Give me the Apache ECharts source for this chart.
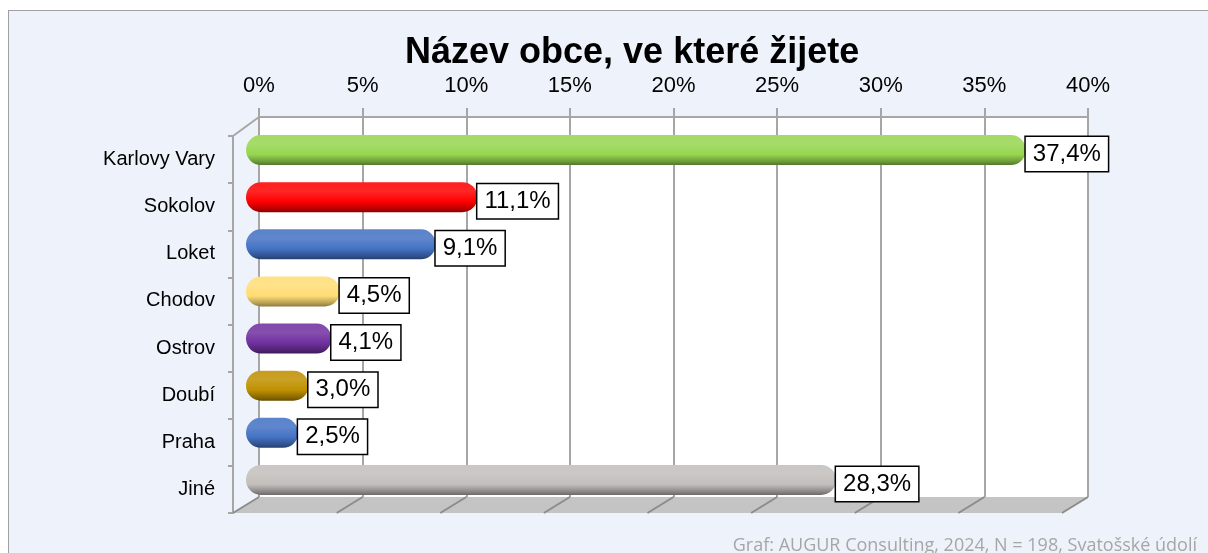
<!DOCTYPE html>
<html>
<head>
<meta charset="utf-8">
<script src="https://cdn.jsdelivr.net/npm/echarts@6/dist/echarts.min.js"></script>
<style>
  html, body { margin: 0; padding: 0; background: #fff; overflow: hidden; }
  #frame {
    position: absolute; left: 8px; top: 10px; width: 1300px; height: 700px;
    background: #eef3fb; border: 1px solid #a0a0a0;
  }
  #chart { position: absolute; left: 0; top: 0; width: 1208px; height: 553px; }
</style>
</head>
<body>
<div id="frame"></div>
<div id="chart"></div>
<script>
// data
const categories = ["Karlovy Vary", "Sokolov", "Loket", "Chodov", "Ostrov", "Doubí", "Praha", "Jiné"];
const shares = [37.4, 11.1, 9.1, 4.5, 4.1, 3.0, 2.5, 28.3];
const ticks = [0, 5, 10, 15, 20, 25, 30, 35, 40];

const barColors = ["#96d650", "#ff0000", "#4472c4", "#ffdd75", "#7030a0", "#bf9000", "#4472c4", "#c2bebc"];
const gridGray = "#a6a6a6";
const depthX = -26, depthY = 16;

function shade(hex, k) {
  const n = parseInt(hex.slice(1), 16);
  let r = n >> 16, g = (n >> 8) & 255, b = n & 255;
  const f = (c) => k >= 0 ? Math.round(c + (255 - c) * k) : Math.round(c * (1 + k));
  return "rgb(" + f(r) + "," + f(g) + "," + f(b) + ")";
}

function cylinder(hex) {
  return new echarts.graphic.LinearGradient(0, 0, 0, 1, [
    { offset: 0, color: shade(hex, 0.12) },
    { offset: 0.3, color: shade(hex, 0.15) },
    { offset: 0.65, color: hex },
    { offset: 0.9, color: shade(hex, -0.3) },
    { offset: 1, color: shade(hex, -0.45) },
  ]);
}

const chart = echarts.init(document.getElementById("chart"));

const options = {
  backgroundColor: "transparent",
  animation: false,
  title: {
    text: "Název obce, ve které žijete",
    left: 400,
    top: 30,
    textStyle: { fontFamily: "Liberation Sans", fontSize: 36, fontWeight: "bold", color: "#000" },
  },
  grid: [
    // back wall
    { left: 259, top: 117, width: 829, height: 380, show: true, backgroundColor: "#fff", borderWidth: 0 },
    // bars (middle depth)
    { left: 246, top: 126.5, width: 834, height: 377 },
    // front edge for category labels
    { left: 233, top: 136, width: 829, height: 377 },
  ],
  xAxis: [
    {
      gridIndex: 0, type: "value", position: "top", min: ticks[0], max: ticks[ticks.length - 1], interval: 5,
      axisLine: { show: true, lineStyle: { color: gridGray, width: 2 } },
      axisTick: { show: true, length: 9, lineStyle: { color: gridGray, width: 2 } },
      axisLabel: { formatter: "{value}%", margin: 20, fontFamily: "Liberation Sans", fontSize: 22, color: "#000" },
      splitLine: { show: true, lineStyle: { color: gridGray, width: 2 } },
    },
    { gridIndex: 1, type: "value", min: 0, max: 40, show: false },
    { gridIndex: 2, type: "value", min: 0, max: 40, show: false },
  ],
  yAxis: [
    { gridIndex: 0, type: "category", data: categories, inverse: true, show: false },
    { gridIndex: 1, type: "category", data: categories, inverse: true, show: false },
    {
      gridIndex: 2, type: "category", data: categories, inverse: true,
      axisLine: { show: true, lineStyle: { color: gridGray, width: 2 } },
      axisTick: { show: true, length: 5, lineStyle: { color: gridGray, width: 2 } },
      axisLabel: { margin: 18, fontFamily: "Liberation Sans", fontSize: 20, color: "#000" },
      splitLine: { show: false },
    },
  ],
  series: [
    {
      type: "bar",
      xAxisIndex: 1,
      yAxisIndex: 1,
      barWidth: 30,
      z: 5,
      data: shares.map((v, i) => ({
        value: v,
        itemStyle: { color: cylinder(barColors[i]), borderRadius: 15 },
      })),
      label: {
        show: true,
        position: "right",
        distance: 0,
        offset: [0, 4],
        formatter: (p) => p.value.toFixed(1).replace(".", ",") + "%",
        fontFamily: "Liberation Sans",
        fontSize: 24,
        lineHeight: 28,
        color: "#000",
        backgroundColor: "#fff",
        borderColor: "#000",
        borderWidth: 1.5,
        padding: [4, 7, 2, 7],
      },
    },
  ],
};

chart.setOption(options);

// 3D floor and side wall, placed from the wall axis
const x0 = chart.convertToPixel({ gridIndex: 0 }, [ticks[0], 0])[0];
const x1 = chart.convertToPixel({ gridIndex: 0 }, [ticks[ticks.length - 1], 0])[0];
const wallTop = 117, wallBottom = 497;
const deco = [
  {
    type: "polygon", z: 1, silent: true,
    shape: { points: [[x0, wallBottom], [x1, wallBottom], [x1 + depthX, wallBottom + depthY], [x0 + depthX, wallBottom + depthY]] },
    style: { fill: "#c4c4c4" },
  },
  {
    type: "line", z: 2, silent: true,
    shape: { x1: x0 + depthX, y1: wallTop + 19, x2: x0, y2: wallTop },
    style: { stroke: gridGray, lineWidth: 2 },
  },
];
ticks.forEach((t) => {
  const x = chart.convertToPixel({ gridIndex: 0 }, [t, 0])[0];
  deco.push({
    type: "line", z: 2, silent: true,
    shape: { x1: x, y1: wallBottom, x2: x + depthX, y2: wallBottom + depthY },
    style: { stroke: "#8c8c8c", lineWidth: 2 },
  });
});
deco.push({
  type: "text", z: 3, silent: true,
  style: {
    text: "Graf: AUGUR Consulting, 2024, N = 198, Svatošské údolí",
    x: 1197, y: 555, align: "right", verticalAlign: "bottom",
    font: "18px 'Open Sans'", fill: "#a6a6a6",
  },
});
chart.setOption({ graphic: deco });

window.addEventListener("resize", () => {
  chart.resize();
});
</script>
</body>
</html>
